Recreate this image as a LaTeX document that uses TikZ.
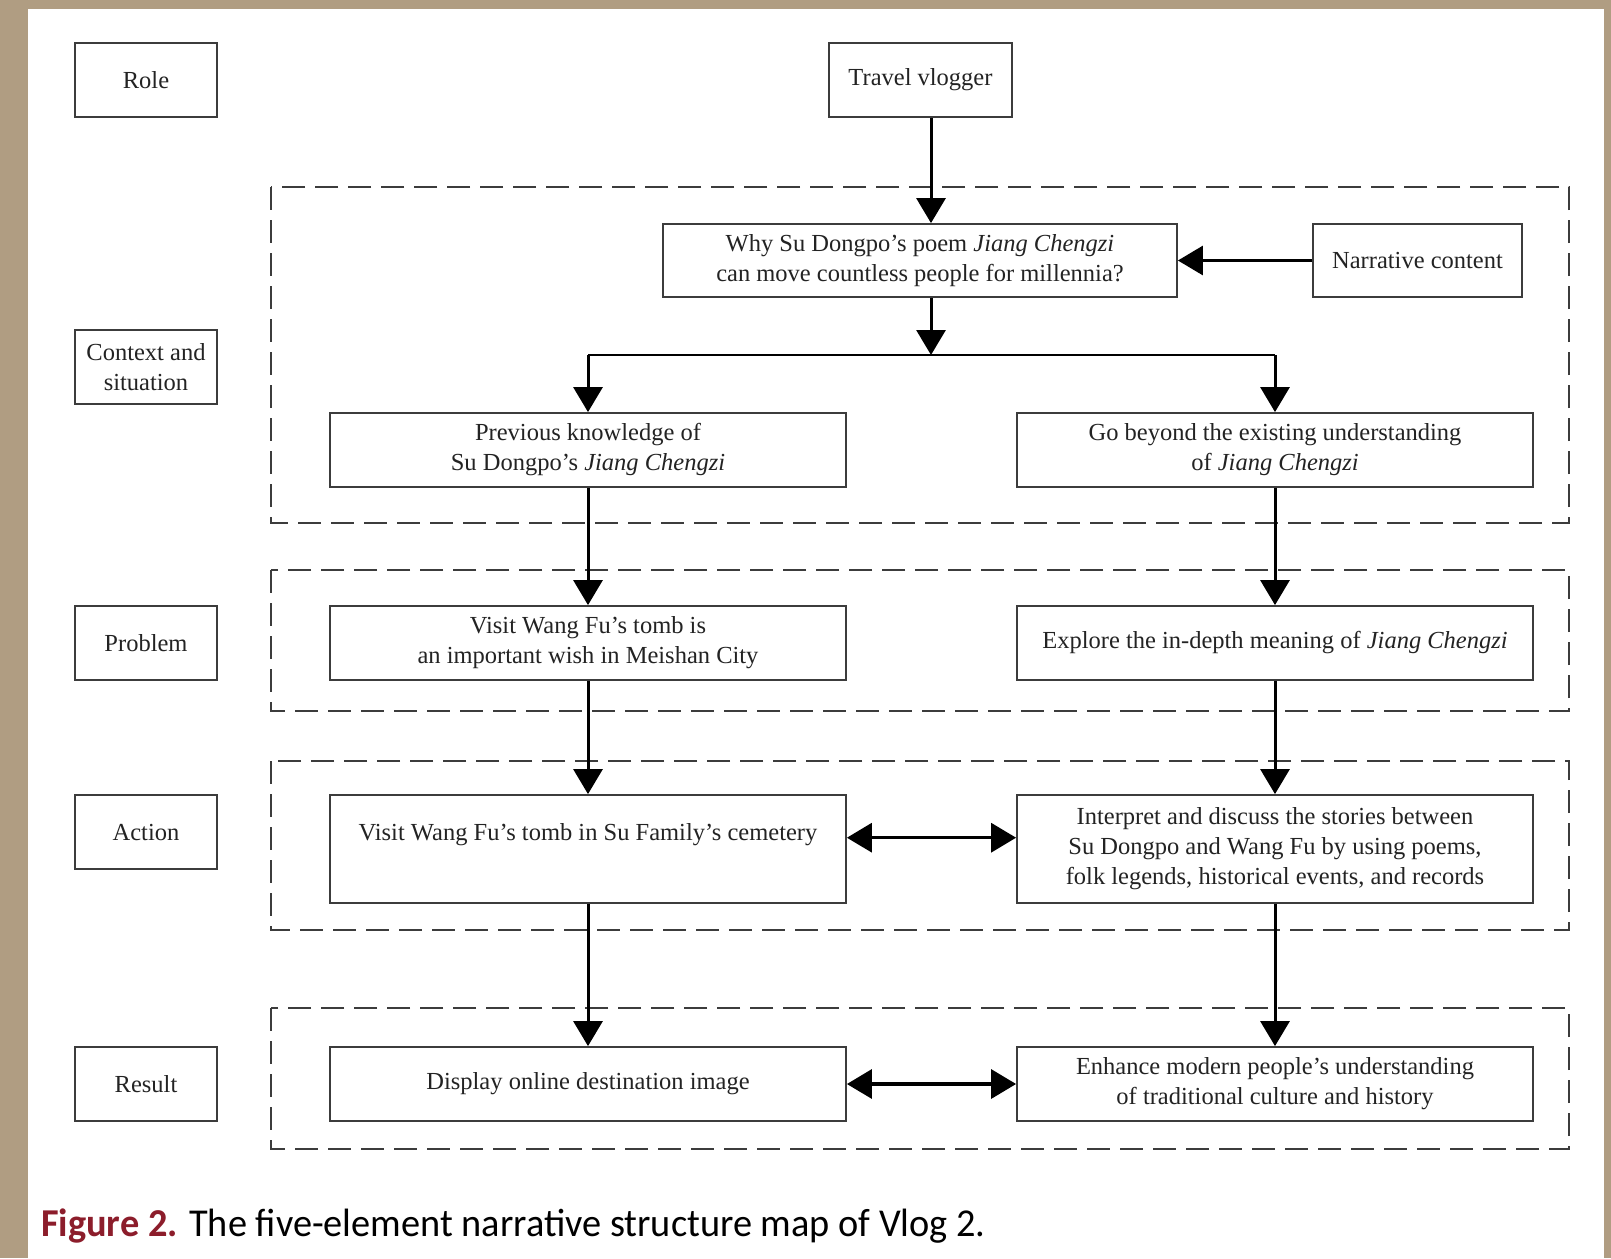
\documentclass[tikz,border=0pt]{standalone}
\usepackage{fontspec}
\setmainfont{Liberation Serif}
\newfontfamily\capfont[FakeStretch=0.97]{Carlito}
\usetikzlibrary{positioning, calc, arrows.meta}
\definecolor{tanbg}{RGB}{176,157,130}
\definecolor{figred}{RGB}{140,29,43}
\definecolor{boxgray}{RGB}{60,60,60}
\definecolor{txtgray}{RGB}{35,35,35}

\begin{document}
\begin{tikzpicture}[x=1pt,y=-1pt,
        rolebox/.style={% For the element names on the left
            rectangle,
            draw=boxgray,
            line width=1.8pt,
            minimum width=142pt,
            minimum height=74pt,
            inner sep=0pt,
            align=center,
            text=txtgray,
            font=\fontsize{24.5}{30}\selectfont
            },
        item/.style={% For the boxes of the story
            rolebox,
            minimum width=516pt
            },
        frame/.style={% For the dashed element frames
            draw=boxgray,
            line width=2pt,
            dash pattern=on 23pt off 10pt
            },
        arrowD/.style={% Arrows down and across
            line width=3pt,
            -{Triangle[length=25pt,width=29pt]}
            },
        arrowB/.style={% Arrows both ways
            line width=3.2pt,
            {Triangle[length=25pt,width=29pt]}-{Triangle[length=25pt,width=29pt]}
            },
            ]
         % background and margins
         \fill[tanbg] (0,0) rectangle (1611,1258);
         \fill[white] (28,9) rectangle (1604,1258);
         \useasboundingbox (0,0) rectangle (1611,1258);
         % dashed frames
         \draw[frame] (271,187) rectangle (1569,523);
         \draw[frame] (271,570) rectangle (1569,711);
         \draw[frame] (271,761) rectangle (1569,930);
         \draw[frame] (271,1008) rectangle (1569,1149);
         % five elements
         \node[rolebox] (role) at (146,80) {Role};
         \node[rolebox] (context) at (146,367) {Context and\\situation};
         \node[rolebox] (problem) at (146,643) {Problem};
         \node[rolebox] (action) at (146,832) {Action};
         \node[rolebox] (result) at (146,1084) {Result};
         % story boxes
         \node[rolebox, minimum width=183pt] (vlogger) at (920.5,80) {Travel vlogger};
         \node[item, minimum width=514pt, minimum height=73pt] (why) at (920,260.5) {Why Su Dongpo's poem \textit{Jiang Chengzi}\\can move countless people for millennia?};
         \node[rolebox, minimum width=209pt, minimum height=73pt] (narrative) at (1417.5,260.5) {Narrative content};
         \node[item] (previous) at (588,450) {Previous knowledge of\\Su Dongpo's \textit{Jiang Chengzi}};
         \node[item] (beyond) at (1275,450) {Go beyond the existing understanding\\of \textit{Jiang Chengzi}};
         \node[item] (wish) at (588,643) {Visit Wang Fu's tomb is\\an important wish in Meishan City};
         \node[item] (explore) at (1275,643) {Explore the in-depth meaning of \textit{Jiang Chengzi}};
         \node[item, minimum height=108pt, text height=45pt, text depth=63pt] (tomb) at (588,849) {Visit Wang Fu's tomb in Su Family's cemetery};
         \node[item, minimum height=108pt] (interpret) at (1275,849) {Interpret and discuss the stories between\\Su Dongpo and Wang Fu by using poems,\\folk legends, historical events, and records};
         \node[item] (display) at (588,1084) {Display online destination image};
         \node[item] (enhance) at (1275,1084) {Enhance modern people's understanding\\of traditional culture and history};
         \coordinate (split) at (931,355);
         % connectors
         \draw[arrowD] (vlogger.south -| split) -- (why.north -| split);
         \draw[arrowD] (narrative) -- (why);
         \draw[arrowD] (why.south -| split) -- (split);
         \draw[line width=2.2pt] (previous.north |- split) -- (beyond.north |- split);
         \draw[arrowD] (previous.north |- split) -- (previous.north);
         \draw[arrowD] (beyond.north |- split) -- (beyond.north);
         \draw[arrowD] (previous.south) -- (wish.north);
         \draw[arrowD] (beyond.south) -- (explore.north);
         \draw[arrowD] (wish.south) -- (tomb.north);
         \draw[arrowD] (explore.south) -- (interpret.north);
         \draw[arrowD] (tomb.south) -- (display.north);
         \draw[arrowD] (interpret.south) -- (enhance.north);
         \draw[arrowB] (tomb.mid east) -- (tomb.mid east -| interpret.west);
         \draw[arrowB] (display) -- (enhance);
         % caption
         \node[anchor=base west, inner sep=0pt, font=\capfont\fontsize{39.5}{48}\selectfont] (caption) at (41,1236) {\textcolor{figred}{\textbf{Figure 2.}} The five-element narrative structure map of Vlog 2.};
        \end{tikzpicture}
\end{document}
